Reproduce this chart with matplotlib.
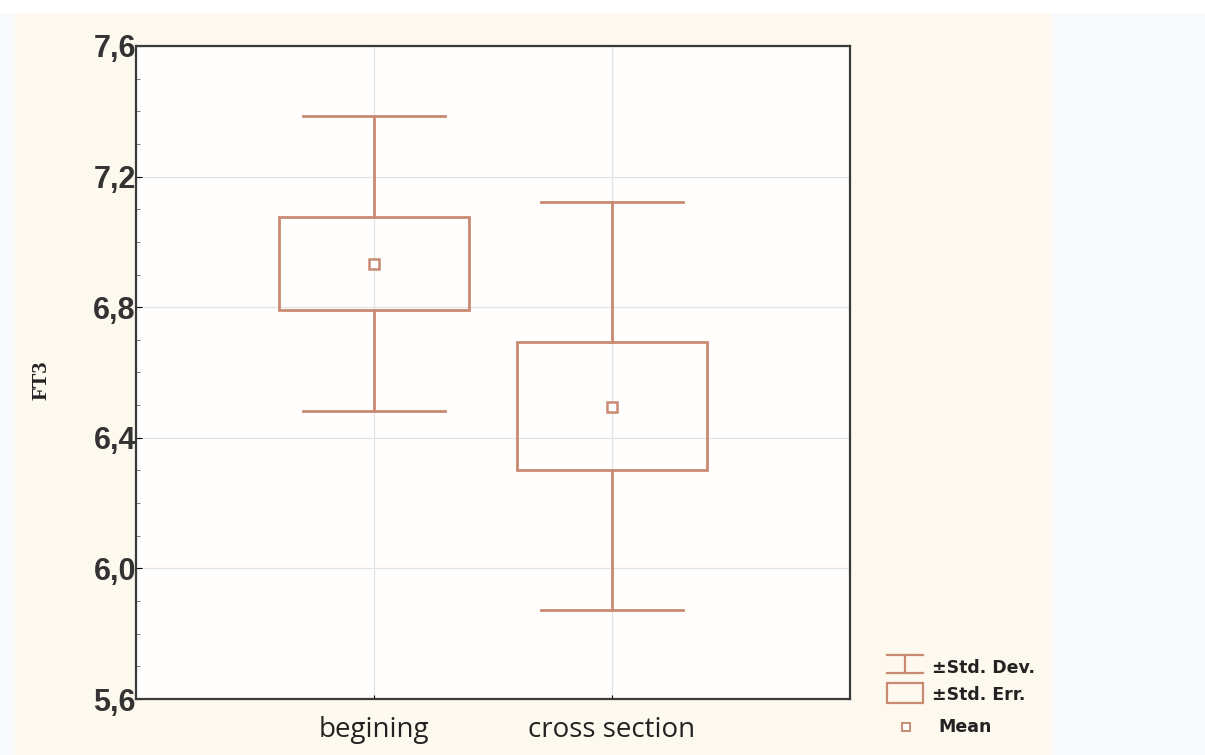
import matplotlib
matplotlib.use("Agg")
import matplotlib.pyplot as plt
from matplotlib.patches import Rectangle

# Data
groups = ["begining", "cross section"]
means = [6.932, 6.494]
std_err_low = [6.791, 6.301]
std_err_high = [7.076, 6.693]
std_dev_low = [6.482, 5.873]
std_dev_high = [7.386, 7.122]
y_ticks = [5.6, 6.0, 6.4, 6.8, 7.2, 7.6]
y_tick_labels = ["5,6", "6,0", "6,4", "6,8", "7,2", "7,6"]
legend_labels = ["\u00b1Std. Dev.", "\u00b1Std. Err.", "Mean"]

col = "#c98a72"
W, H = 1205, 755

fig = plt.figure(figsize=(W / 100, H / 100), dpi=100)
fig.patch.set_facecolor("#f8f9fb")
# beige panel + white top strip
fig.patches.append(Rectangle((15 / W, 0), (1052 - 15) / W, 1 - 13 / H,
                             transform=fig.transFigure, fc="#fdf9ef", ec="none", zorder=-2))
fig.patches.append(Rectangle((0, 1 - 13 / H), 1, 13 / H,
                             transform=fig.transFigure, fc="white", ec="none", zorder=-2))

ax = fig.add_axes([136 / W, 56 / H, 714 / W, 653 / H])
ax.set_facecolor("#fffefc")

box_half = 0.4
cap_half = 0.3
for i, g in enumerate(groups):
    x = i + 1
    # whiskers
    ax.plot([x, x], [std_err_high[i], std_dev_high[i]], color=col, lw=2, zorder=3)
    ax.plot([x, x], [std_dev_low[i], std_err_low[i]], color=col, lw=2, zorder=3)
    ax.plot([x - cap_half, x + cap_half], [std_dev_high[i]] * 2, color=col, lw=2, zorder=3)
    ax.plot([x - cap_half, x + cap_half], [std_dev_low[i]] * 2, color=col, lw=2, zorder=3)
    # std err box
    ax.add_patch(Rectangle((x - box_half, std_err_low[i]), 2 * box_half,
                           std_err_high[i] - std_err_low[i], fc="none", ec=col, lw=2, zorder=3))
    # mean
    ax.plot([x], [means[i]], marker="s", ms=7, mfc="white", mec=col, mew=1.8, zorder=4)

ax.set_xlim(0, 3)
ax.set_ylim(5.6, 7.6)
ax.set_xticks([1, 2])
ax.set_xticklabels(groups, fontsize=20, family="Open Sans", color="#222222")
ax.set_yticks(y_ticks)
ax.set_yticklabels(y_tick_labels, fontsize=22, family="Liberation Sans",
                   fontweight="bold", color="#333333")
ax.set_yticks([5.7, 5.8, 5.9, 6.1, 6.2, 6.3, 6.5, 6.6, 6.7, 6.9, 7.0, 7.1, 7.3, 7.4, 7.5], minor=True)
ax.tick_params(axis="y", which="major", length=4, direction="in", pad=0)
ax.tick_params(axis="y", which="minor", length=3, direction="in", color="#666666")
ax.tick_params(axis="x", length=3, direction="in", pad=12)
ax.grid(True, color="#e3e3e3", lw=0.9, zorder=0)
for s in ax.spines.values():
    s.set_color("#3a3a3a")
    s.set_linewidth(1.6)

fig.text(42 / W, 1 - 380 / H, "FT3", fontsize=16, family="Liberation Serif",
         fontweight="bold", color="#222222", rotation=90, ha="center", va="center")

# legend drawn in a small axes (pixel coords: x + 880, y + 635)
lax = fig.add_axes([880 / W, 0, 170 / W, 120 / H])
lax.set_xlim(0, 170)
lax.set_ylim(120, 0)
lax.axis("off")
# std dev icon
lax.plot([7, 43], [20, 20], color=col, lw=1.6)
lax.plot([7, 43], [38, 38], color=col, lw=1.6)
lax.plot([25, 25], [20, 38], color=col, lw=1.6)
# std err icon
lax.add_patch(Rectangle((7, 48), 36, 20, fc="none", ec=col, lw=1.6))
# mean icon
lax.plot([26], [92], marker="s", ms=6, mfc="white", mec=col, mew=1.4)
for k, (lab, yy) in enumerate(zip(legend_labels, [33, 60, 92])):
    lax.text(52 if k < 2 else 58, yy, lab, fontsize=12.5, family="Liberation Sans Narrow",
             fontweight="bold", va="center", ha="left", color="#222222")

fig.savefig("out.png", dpi=100, facecolor=fig.get_facecolor())
